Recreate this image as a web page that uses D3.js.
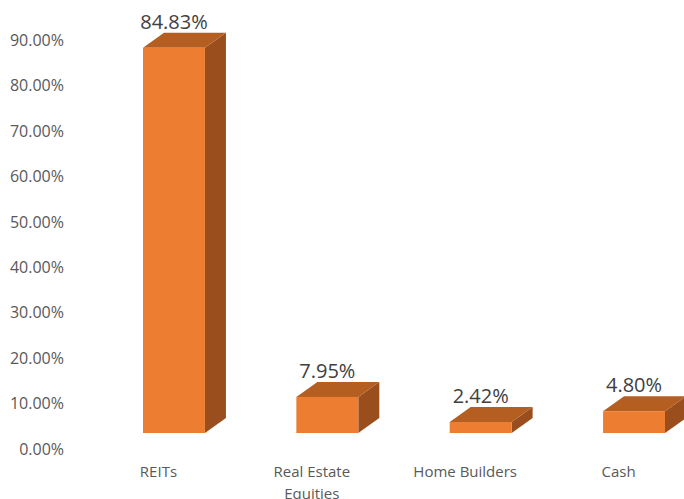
<!DOCTYPE html>
<html><head><meta charset="utf-8">
<script src="https://cdn.jsdelivr.net/npm/d3@7"></script>
<style>body{margin:0;background:#fff}svg{display:block}</style>
</head><body>
<svg id="chart" width="684" height="499"></svg>
<script>
const categories = ["REITs", "Real Estate Equities", "Home Builders", "Cash"];
const categoryLines = [["REITs"], ["Real Estate", "Equities"], ["Home Builders"], ["Cash"]];
const values = [84.83, 7.95, 2.42, 4.80];
const valueLabels = ["84.83%", "7.95%", "2.42%", "4.80%"];
const yTicks = [0, 10, 20, 30, 40, 50, 60, 70, 80, 90];

const svg = d3.select("#chart");
const font = "'Open Sans', sans-serif";
const depthX = 21, depthY = 15;

const y = d3.scaleLinear().domain([0, 90]).range([433, 433 - 90 * 4.54]);
const x = d3.scaleBand().domain(categories).range([143, 665]).paddingInner(0.596).paddingOuter(0);

// Y axis labels
const yAxis = d3.axisLeft(y).tickValues(yTicks).tickSize(0).tickPadding(0)
  .tickFormat(d => d3.format(".2f")(d) + "%");
const gy = svg.append("g").attr("transform", "translate(64,16)").call(yAxis);
gy.select(".domain").remove();
gy.selectAll("text").attr("font-family", font).attr("font-size", 16).attr("fill", "#595959");

// Bars
const bars = svg.append("g").selectAll("g").data(categories).join("g");
bars.each(function(c, i) {
  const g = d3.select(this);
  const x0 = x(c), x1 = x(c) + x.bandwidth();
  const yt = y(values[i]), yb = y(0);
  // side
  g.append("path").attr("d", `M${x1},${yb}L${x1 + depthX},${yb - depthY}L${x1 + depthX},${yt - depthY}L${x1},${yt}Z`)
    .attr("fill", "#9A4E1D");
  // top
  g.append("path").attr("d", `M${x0},${yt}L${x0 + depthX},${yt - depthY}L${x1 + depthX},${yt - depthY}L${x1},${yt}Z`)
    .attr("fill", "#B45E22");
  // front
  g.append("rect").attr("x", x0).attr("y", yt).attr("width", x.bandwidth()).attr("height", yb - yt)
    .attr("fill", "#ED7D31");
  // value label
  g.append("text").attr("x", (x0 + x1) / 2).attr("y", yt - depthY - 4)
    .attr("text-anchor", "middle").attr("font-family", font).attr("font-size", 20)
    .attr("fill", "#404040").text(valueLabels[i]);
});

// Category labels
const cl = svg.append("g").selectAll("text").data(categories).join("text")
  .attr("x", c => x(c) + x.bandwidth() / 2 - 15.5)
  .attr("y", 477)
  .attr("text-anchor", "middle").attr("font-family", font).attr("font-size", 15).attr("fill", "#595959");
cl.each(function(c, i) {
  const t = d3.select(this);
  categoryLines[i].forEach((line, j) => {
    t.append("tspan").attr("x", x(c) + x.bandwidth() / 2 - 15.5).attr("dy", j === 0 ? 0 : 22).text(line);
  });
});
</script>
</body></html>
